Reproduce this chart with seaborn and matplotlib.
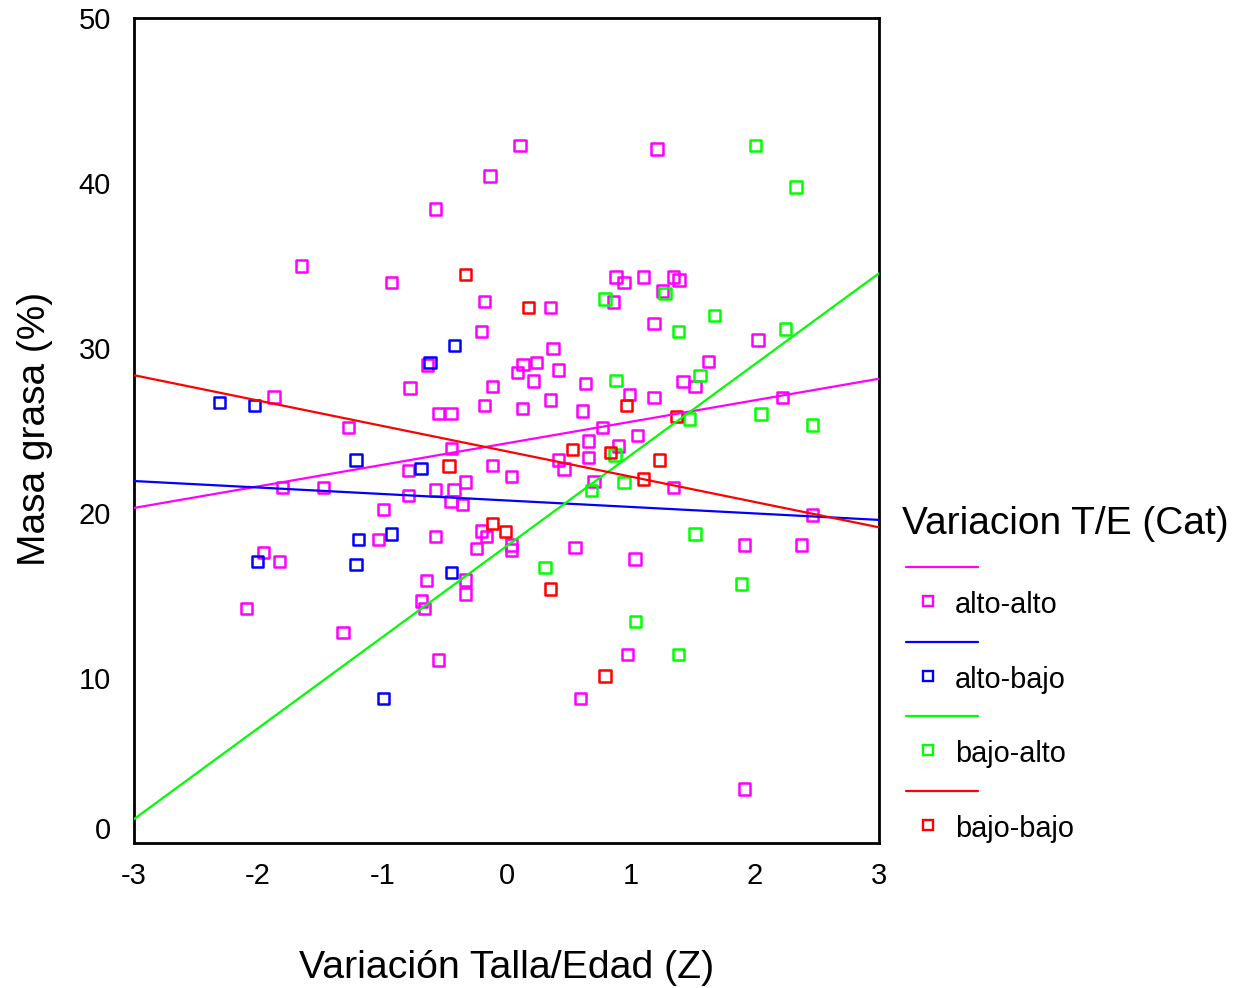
import matplotlib
matplotlib.use("Agg")
import matplotlib.pyplot as plt
from matplotlib.lines import Line2D
from matplotlib.transforms import ScaledTranslation
import numpy as np
import pandas as pd
import seaborn as sns

# Variación Talla/Edad (Z) vs Masa grasa (%), by T/E category
alto_alto_x = [0.109, 1.212, -0.133, -0.573, -1.649, -0.924, 0.882, 0.946, 1.101, 1.343,
               1.389, 1.258, 0.860, -0.179, 0.356, 1.188, -0.200, 0.374, 2.025, -0.638,
               0.133, 0.243, 1.625, 0.087, 0.417, 0.638, -0.777, -0.111, 0.219, 1.421,
               1.518, -1.872, 0.356, 0.989, 1.188, 2.224, -0.179, 0.130, -0.549, -0.447,
               0.614, -1.274, 0.771, 1.056, 0.659, -0.441, 0.900, 0.417, 0.659, 0.463,
               -0.791, -0.111, 0.042, -1.805, -1.475, -0.570, -0.423, -0.329, -0.791, -0.447,
               -0.353, 0.705, 1.343, -0.992, 2.465, -0.570, -1.032, -0.200, -0.159, -1.958,
               -1.829, -0.240, 0.042, 0.042, 0.552, 1.915, 2.377, 1.035, -0.643, -0.329,
               -0.329, -0.683, -0.662, -2.092, -1.317, -0.547, 0.975, 0.597, 1.919]
alto_alto_y = [42.26, 42.06, 40.42, 38.42, 34.97, 33.96, 34.30, 33.96, 34.30, 34.30,
               34.12, 33.45, 32.79, 32.81, 32.47, 31.47, 30.99, 29.98, 30.48, 28.97,
               29.01, 29.13, 29.17, 28.50, 28.67, 27.86, 27.58, 27.65, 28.00, 27.96,
               27.65, 27.03, 26.85, 27.19, 27.01, 27.01, 26.53, 26.35, 26.02, 26.02,
               26.18, 25.17, 25.19, 24.68, 24.36, 23.90, 24.06, 23.21, 23.35, 22.67,
               22.56, 22.87, 22.20, 21.53, 21.53, 21.39, 21.39, 21.88, 21.05, 20.68,
               20.53, 21.90, 21.53, 20.22, 19.88, 18.56, 18.41, 18.91, 18.56, 17.59,
               17.05, 17.86, 18.06, 17.76, 17.90, 18.06, 18.06, 17.21, 15.90, 15.94,
               15.09, 14.67, 14.22, 14.22, 12.77, 11.09, 11.44, 8.77, 3.28]

alto_bajo_x = [-2.312, -2.031, -1.212, -0.688, -1.193, -0.924, -2.003, -1.212, -0.441,
               -0.420, -0.616, -0.990]
alto_bajo_y = [26.68, 26.53, 23.21, 22.68, 18.41, 18.73, 17.05, 16.89, 16.41,
               30.14, 29.13, 8.77]

bajo_alto_x = [2.003, 2.331, 1.276, 0.793, 1.673, 1.386, 2.245, 0.882, 1.558, 1.472,
               2.049, 2.465, 0.874, 0.686, 0.946, 1.518, 0.310, 1.894, 1.037, 1.387]
bajo_alto_y = [42.26, 39.76, 33.32, 32.97, 31.96, 30.99, 31.15, 28.02, 28.32, 25.70,
               26.00, 25.33, 23.52, 21.35, 21.86, 18.73, 16.71, 15.70, 13.41, 11.44]

bajo_bajo_x = [-0.329, 0.179, -0.463, -0.114, -0.008, 0.968, 1.370, 0.530, 0.839,
               1.230, 1.101, 0.356, 0.794]
bajo_bajo_y = [34.47, 32.47, 22.85, 19.38, 18.89, 26.50, 25.84, 23.86, 23.68,
               23.21, 22.06, 15.39, 10.12]

categories = ["alto-alto", "alto-bajo", "bajo-alto", "bajo-bajo"]
colors = ["#FF00FF", "#0000FF", "#00FF00", "#FF0000"]
x_ticks = [-3, -2, -1, 0, 1, 2, 3]
y_ticks = [0, 10, 20, 30, 40, 50]

frames = []
for cat, xs, ys in zip(categories,
                       [alto_alto_x, alto_bajo_x, bajo_alto_x, bajo_bajo_x],
                       [alto_alto_y, alto_bajo_y, bajo_alto_y, bajo_bajo_y]):
    frames.append(pd.DataFrame({"z": xs, "grasa": ys, "cat": cat}))
df = pd.concat(frames, ignore_index=True)

sns.set_theme(style="white")
plt.rcParams["font.family"] = ["Liberation Sans", "DejaVu Sans"]

W, H = 1234, 988
fig = plt.figure(figsize=(W / 100, H / 100), dpi=100)
ax = fig.add_axes([134 / W, 1 - 843 / H, (879 - 134) / W, (843 - 18) / H])
ax.set_xlim(-3, 3)
ax.set_ylim(0, 50)

# open-square scatter per category
for cat, col in zip(categories, colors):
    sub = df[df["cat"] == cat]
    sns.scatterplot(data=sub, x="z", y="grasa", ax=ax, marker="s", s=66,
                    facecolors="none", edgecolor=col, linewidth=1.8, zorder=3)

# least-squares fit lines spanning the full x range
for cat, col in zip(categories, colors):
    sub = df[df["cat"] == cat]
    sns.regplot(data=sub, x="z", y="grasa", ax=ax, scatter=False, ci=None,
                truncate=False, color=col, line_kws={"lw": 1.6, "zorder": 4})

ax.set_xlim(-3, 3)
ax.set_ylim(0, 50)
ax.set_xticks(x_ticks)
ax.set_yticks(y_ticks)
ax.set_xticklabels([str(t) for t in x_ticks])
ax.set_yticklabels([str(t) for t in y_ticks])

for sp in ax.spines.values():
    sp.set_visible(True)
    sp.set_color("black")
    sp.set_linewidth(2.0)

ax.tick_params(axis="both", which="major", direction="out", length=3.5, width=4,
               color="black", labelsize=21, labelcolor="black")
ax.tick_params(axis="x", pad=10)
ax.tick_params(axis="y", pad=13)
ax.grid(False)

# lift the "0" y tick label above the corner
ylabels = ax.get_yticklabels()
ylabels[0].set_transform(ylabels[0].get_transform() +
                         ScaledTranslation(0, 15 / 100, fig.dpi_scale_trans))

ax.set_xlabel("")
ax.set_ylabel("")
fig.text(507 / W, 1 - 968 / H, "Variación Talla/Edad (Z)", fontsize=28.3,
         ha="center", va="center", color="black")
fig.text(35 / W, 1 - 429 / H, "Masa grasa (%)", fontsize=28,
         rotation=90, ha="center", va="center", color="black")

# legend: title, then for each category a line row and a marker + label row
fig.text(902 / W, 1 - 524 / H, "Variacion T/E (Cat)", fontsize=28,
         ha="left", va="center", color="black")
row_step = 74.5
for i, (cat, col) in enumerate(zip(categories, colors)):
    y_line = 567 + i * row_step
    y_mark = 601 + i * row_step
    fig.add_artist(Line2D([906 / W, 978 / W], [1 - y_line / H, 1 - y_line / H],
                          transform=fig.transFigure, color=col, lw=1.6))
    fig.add_artist(Line2D([928 / W], [1 - y_mark / H], transform=fig.transFigure,
                          marker="s", markersize=7.5, markerfacecolor="none",
                          markeredgecolor=col, markeredgewidth=1.7, linestyle="none"))
    fig.text(955 / W, 1 - (y_mark + 4) / H, cat, fontsize=20.8,
             ha="left", va="center", color="black")

fig.savefig("out.png", dpi=100, facecolor="white")
